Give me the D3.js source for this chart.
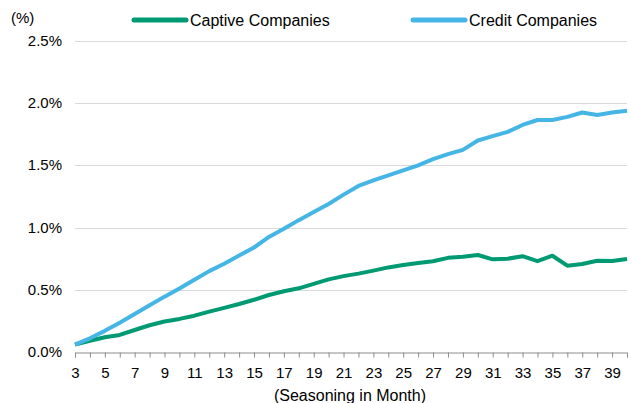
<!DOCTYPE html>
<html>
<head>
<meta charset="utf-8">
<script src="https://cdn.jsdelivr.net/npm/d3@7"></script>
<style>
  body { margin: 0; background: #fff; }
  svg { display: block; font-family: "Liberation Sans", Arial, sans-serif; }
</style>
</head>
<body>
<svg class="chart" width="631" height="403"></svg>
<script>
const months = d3.range(3, 41);
const captive = [0.06, 0.09, 0.118, 0.137, 0.177, 0.215, 0.245, 0.266, 0.292, 0.325,
  0.355, 0.386, 0.42, 0.458, 0.488, 0.512, 0.547, 0.584, 0.61, 0.63,
  0.654, 0.68, 0.70, 0.716, 0.73, 0.757, 0.766, 0.78, 0.745, 0.75,
  0.77, 0.73, 0.774, 0.694, 0.707, 0.734, 0.731, 0.748];
const credit = [0.06, 0.11, 0.17, 0.235, 0.305, 0.375, 0.445, 0.51, 0.58, 0.65,
  0.71, 0.775, 0.84, 0.925, 0.99, 1.06, 1.125, 1.19, 1.265, 1.335,
  1.38, 1.42, 1.46, 1.50, 1.55, 1.59, 1.625, 1.70, 1.735, 1.77,
  1.825, 1.865, 1.865, 1.89, 1.925, 1.905, 1.925, 1.94];
const yTicks = [0, 0.5, 1.0, 1.5, 2.0, 2.5];
const series = [
  { name: 'Captive Companies', values: captive, color: '#009a72' },
  { name: 'Credit Companies', values: credit, color: '#45b5e5' }
];

const svg = d3.select('.chart');
const margin = { left: 75, right: 4, top: 41, bottom: 51 };
const width = 631, height = 403;

const x = d3.scaleLinear().domain([3, 40]).range([margin.left, width - margin.right]);
const y = d3.scaleLinear().domain([0, 2.5]).range([height - margin.bottom, margin.top]);

// gridlines
svg.append('g')
  .selectAll('line')
  .data(yTicks.filter(d => d > 0))
  .join('line')
  .attr('x1', x(3)).attr('x2', x(40))
  .attr('y1', d => Math.round(y(d)) + 0.5).attr('y2', d => Math.round(y(d)) + 0.5)
  .attr('stroke', '#d9d9d9').attr('stroke-width', 1);

// y labels
svg.append('g')
  .selectAll('text')
  .data(yTicks)
  .join('text')
  .attr('x', 62)
  .attr('y', d => y(d) + 5)
  .attr('text-anchor', 'end')
  .attr('font-size', 15)
  .attr('fill', '#000')
  .text(d => d.toFixed(1) + '%');

svg.append('text')
  .attr('x', 11).attr('y', 23)
  .attr('font-size', 15)
  .text('(%)');

// x axis
const xAxis = d3.axisBottom(x)
  .tickValues(months)
  .tickSize(5)
  .tickFormat(d => (d % 2 === 1 ? d : ''));

const gx = svg.append('g')
  .attr('transform', `translate(0,${Math.round(y(0)) + 0.5})`)
  .call(xAxis);
gx.select('.domain').attr('stroke', '#8c8c8c');
gx.selectAll('.tick line').attr('stroke', '#8c8c8c');
gx.selectAll('.tick text')
  .attr('font-size', 15)
  .attr('font-family', '"Liberation Sans", Arial, sans-serif')
  .attr('fill', '#000')
  .attr('dy', '1.15em');

svg.append('text')
  .attr('x', 350).attr('y', 401)
  .attr('text-anchor', 'middle')
  .attr('font-size', 16)
  .text('(Seasoning in Month)');

// lines
const line = d3.line()
  .x((d, i) => x(months[i]))
  .y(d => y(d));

svg.append('g')
  .selectAll('path')
  .data(series)
  .join('path')
  .attr('d', d => line(d.values))
  .attr('fill', 'none')
  .attr('stroke', d => d.color)
  .attr('stroke-width', 4)
  .attr('stroke-linejoin', 'round');

// legend
const legendPos = [133, 412];
const legend = svg.append('g')
  .selectAll('g')
  .data(series)
  .join('g')
  .attr('transform', (d, i) => `translate(${legendPos[i]},20)`);

legend.append('line')
  .attr('x1', 1).attr('x2', 53)
  .attr('stroke', d => d.color)
  .attr('stroke-width', 5)
  .attr('stroke-linecap', 'round');

legend.append('text')
  .attr('x', 57).attr('y', 6)
  .attr('font-size', 16)
  .text(d => d.name);
</script>
</body>
</html>
